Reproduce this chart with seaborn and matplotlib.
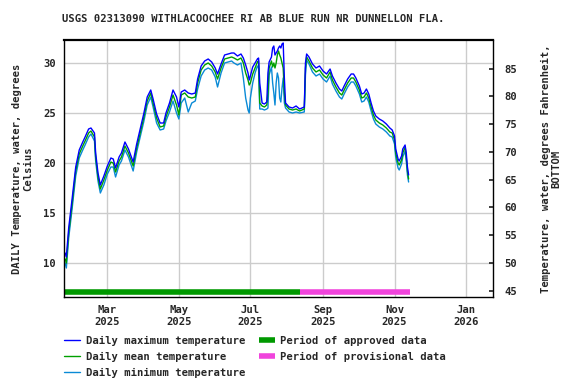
import pandas as pd
import numpy as np
import seaborn as sns
import matplotlib.pyplot as plt
import matplotlib.dates as mdates
from matplotlib.lines import Line2D

# Daily water temperature values (deg C)
dates = [
    '2025-01-24', '2025-01-25', '2025-01-27', '2025-01-30', '2025-02-02', '2025-02-05',
    '2025-02-08', '2025-02-10', '2025-02-13', '2025-02-15', '2025-02-18', '2025-02-19',
    '2025-02-21', '2025-02-23', '2025-02-26', '2025-03-01', '2025-03-04', '2025-03-06',
    '2025-03-08', '2025-03-11', '2025-03-13', '2025-03-16', '2025-03-19', '2025-03-23',
    '2025-03-26', '2025-03-29', '2025-04-01', '2025-04-04', '2025-04-07', '2025-04-09',
    '2025-04-12', '2025-04-15', '2025-04-18', '2025-04-20', '2025-04-23', '2025-04-26',
    '2025-04-29', '2025-05-01', '2025-05-03', '2025-05-06', '2025-05-09', '2025-05-12',
    '2025-05-15', '2025-05-17', '2025-05-20', '2025-05-23', '2025-05-26', '2025-05-29',
    '2025-06-01', '2025-06-03', '2025-06-06', '2025-06-09', '2025-06-12', '2025-06-15',
    '2025-06-17', '2025-06-20', '2025-06-23', '2025-06-25', '2025-06-27', '2025-06-29',
    '2025-06-30', '2025-07-01', '2025-07-03', '2025-07-05', '2025-07-07', '2025-07-08',
    '2025-07-09', '2025-07-11', '2025-07-13', '2025-07-15', '2025-07-16', '2025-07-17',
    '2025-07-19', '2025-07-20', '2025-07-21', '2025-07-22', '2025-07-23', '2025-07-24',
    '2025-07-25', '2025-07-26', '2025-07-27', '2025-07-28', '2025-07-29', '2025-07-30',
    '2025-07-31', '2025-08-03', '2025-08-06', '2025-08-09', '2025-08-12', '2025-08-16',
    '2025-08-17', '2025-08-18', '2025-08-20', '2025-08-23', '2025-08-26', '2025-08-29',
    '2025-09-01', '2025-09-04', '2025-09-07', '2025-09-09', '2025-09-12', '2025-09-15',
    '2025-09-17', '2025-09-19', '2025-09-22', '2025-09-25', '2025-09-27', '2025-09-29',
    '2025-10-02', '2025-10-04', '2025-10-06', '2025-10-08', '2025-10-10', '2025-10-12',
    '2025-10-14', '2025-10-16', '2025-10-19', '2025-10-22', '2025-10-25', '2025-10-28',
    '2025-10-30', '2025-11-01', '2025-11-02', '2025-11-04', '2025-11-05', '2025-11-07',
    '2025-11-08', '2025-11-10', '2025-11-11', '2025-11-12', '2025-11-13',
]

t_mean = [
    10.4, 10.0, 13.0, 16.0, 19.2, 20.9,
    21.7, 22.2, 23.0, 23.2, 22.6, 20.6,
    18.6, 17.4, 18.3, 19.3, 20.1, 20.0,
    19.1, 20.2, 20.6, 21.7, 21.0, 19.7,
    21.5, 23.0, 24.5, 26.2, 27.0, 26.0,
    24.5, 23.6, 23.7, 24.6, 25.6, 26.8,
    25.8, 24.8, 26.8, 27.0, 26.6, 26.5,
    26.6, 28.0, 29.3, 29.8, 30.0, 29.7,
    29.1, 28.4, 29.5, 30.4, 30.5, 30.6,
    30.5, 30.3, 30.5, 30.0, 29.0, 28.3,
    27.8, 28.0, 28.9, 29.5, 30.1, 30.2,
    26.0, 25.7, 25.6, 25.8, 27.0, 29.5,
    30.2, 29.6, 30.0, 29.5, 30.0, 30.8,
    31.2, 30.8, 30.5, 30.0, 29.5, 27.0,
    25.8, 25.4, 25.3, 25.4, 25.2, 25.4,
    29.5, 30.6, 30.2, 29.5, 29.1, 29.3,
    28.8, 28.5, 29.1, 28.3, 27.6, 27.0,
    26.8, 27.3, 28.0, 28.5, 28.5, 28.1,
    27.3, 26.5, 26.6, 27.0, 26.5, 25.6,
    24.8, 24.3, 24.0, 23.8, 23.5, 23.1,
    23.0, 22.3, 21.0, 20.0, 19.8, 20.3,
    21.0, 21.6, 20.6, 19.2, 18.4,
]

t_max = [
    11.0, 10.6, 13.5, 16.5, 19.6, 21.3,
    22.1, 22.6, 23.4, 23.5, 23.0, 21.0,
    19.0, 17.8, 18.7, 19.7, 20.5, 20.4,
    19.5, 20.6, 21.0, 22.1, 21.4, 20.1,
    21.9, 23.4, 24.9, 26.6, 27.3, 26.4,
    24.9, 24.0, 24.0, 25.0, 26.0, 27.3,
    26.6, 25.6, 27.1, 27.3, 27.0, 26.9,
    27.0, 28.4, 29.7, 30.2, 30.4, 30.1,
    29.5, 28.9, 29.9, 30.8, 30.9, 31.0,
    31.0, 30.7, 30.9, 30.5, 29.8, 29.0,
    28.3, 28.7, 29.6, 30.0, 30.4, 30.5,
    28.0, 26.0, 25.9, 26.1, 29.0, 30.1,
    30.6, 31.5, 31.7, 30.8, 31.0, 31.2,
    31.5, 31.7, 31.5, 31.9, 32.0, 28.5,
    26.0, 25.6, 25.5, 25.7, 25.4, 25.6,
    30.0, 30.9, 30.6, 29.9, 29.5, 29.7,
    29.2, 28.9, 29.4, 28.7, 28.0, 27.4,
    27.2, 27.7, 28.4, 28.9, 28.9, 28.5,
    27.7, 26.9, 27.0, 27.4, 26.9, 26.0,
    25.2, 24.7, 24.4, 24.2, 23.9, 23.5,
    23.3, 22.7, 21.4, 20.4, 20.2, 20.7,
    21.4, 21.8, 21.0, 19.6, 18.8,
]

t_min = [
    10.0, 9.5, 12.5, 15.5, 18.7, 20.5,
    21.3, 21.8, 22.6, 22.9, 22.2, 20.2,
    18.2, 17.0, 17.8, 18.9, 19.6, 19.6,
    18.6, 19.8, 20.2, 21.3, 20.6, 19.2,
    21.1, 22.6, 24.1, 25.8, 26.6, 25.6,
    24.0, 23.3, 23.4, 24.2, 25.1, 26.2,
    25.0, 24.4, 26.0, 26.5, 25.1, 26.0,
    26.2, 27.4, 28.7, 29.3, 29.5, 29.3,
    28.6, 27.6, 29.0, 30.0, 30.1, 30.2,
    30.0, 29.8, 30.0, 28.5, 26.5, 25.3,
    25.0, 26.5, 28.0, 29.0, 29.7, 29.5,
    25.4, 25.4, 25.3, 25.4, 25.5, 28.8,
    29.6, 28.0, 27.0, 25.8, 28.0, 29.0,
    28.5, 26.5, 26.1, 27.5, 28.5, 26.0,
    25.5, 25.1, 25.0, 25.1, 25.0, 25.1,
    28.8, 30.3, 29.9, 29.1, 28.7, 28.9,
    28.4, 28.1, 28.7, 27.9, 27.2, 26.6,
    26.4, 26.9, 27.6, 28.1, 28.1, 27.7,
    26.9, 26.1, 26.2, 26.6, 26.1, 25.2,
    24.4, 23.9, 23.6, 23.4, 23.1, 22.7,
    22.6, 21.9, 20.6, 19.5, 19.3, 19.9,
    20.6, 21.2, 20.2, 18.8, 18.1,
]

approved_span = ['2025-01-23', '2025-08-12']
provisional_span = ['2025-08-12', '2025-11-14']

series_names = ['Daily maximum temperature', 'Daily mean temperature', 'Daily minimum temperature']
series_colors = ['#0000ff', '#00a000', '#0a8ad6']
approved_color = '#009900'
provisional_color = '#f044dc'

FONT = ['DejaVu Sans Mono']
FS = 7.6


def c_to_f(c):
    return c * 9.0 / 5.0 + 32.0


df = pd.DataFrame({
    'date': pd.to_datetime(dates),
    series_names[0]: t_max,
    series_names[1]: t_mean,
    series_names[2]: t_min,
})
long_df = df.melt(id_vars='date', var_name='series', value_name='temp')

sns.set_theme(style='white')
plt.rcParams['font.family'] = FONT
plt.rcParams['font.weight'] = 'bold'

fig = plt.figure(figsize=(5.76, 3.84), dpi=100)
ax = fig.add_axes([64 / 576, 1 - 297 / 384, (493 - 64) / 576, (297 - 40) / 384])

# draw min first so max sits on top
draw_order = [series_names[2], series_names[1], series_names[0]]
sns.lineplot(data=long_df, x='date', y='temp', hue='series', hue_order=draw_order,
             palette=dict(zip(series_names, series_colors)), linewidth=1.0,
             legend=False, ax=ax)

ylo, yhi = 6.6, 32.3
bar_y = 7.1
ax.plot(pd.to_datetime(approved_span), [bar_y, bar_y], color=approved_color, lw=4,
        solid_capstyle='butt', clip_on=False)
ax.plot(pd.to_datetime(provisional_span), [bar_y, bar_y], color=provisional_color, lw=4,
        solid_capstyle='butt', clip_on=False)

ax.set_xlim(pd.Timestamp('2025-01-23'), pd.Timestamp('2026-01-24'))
ax.set_ylim(ylo, yhi)
ax.set_yticks([10, 15, 20, 25, 30])
ax.xaxis.set_major_locator(mdates.MonthLocator(bymonth=[1, 3, 5, 7, 9, 11]))
ax.xaxis.set_major_formatter(mdates.DateFormatter('%b\n%Y'))
ax.grid(True, color='#cccccc', linewidth=1.0)
ax.set_axisbelow(True)
ax.set_xlabel('')
ax.set_ylabel('DAILY Temperature, water, degrees\nCelsius', fontsize=FS, fontweight='bold',
              linespacing=1.1, labelpad=7)
ax.tick_params(axis='both', labelsize=FS, length=0, pad=6)
for lab in ax.get_xticklabels() + ax.get_yticklabels():
    lab.set_fontweight('bold')
for sp in ax.spines.values():
    sp.set_color('black')
    sp.set_linewidth(1.0)
ax.spines['top'].set_linewidth(1.6)

ax2 = ax.twinx()
ax2.set_ylim(c_to_f(ylo), c_to_f(yhi))
ax2.set_yticks([45, 50, 55, 60, 65, 70, 75, 80, 85])
ax2.tick_params(axis='y', labelsize=FS, direction='in', length=3, pad=8)
for lab in ax2.get_yticklabels():
    lab.set_fontweight('bold')
ax2.set_ylabel('Temperature, water, degrees Fahrenheit,\nBOTTOM', fontsize=FS,
               fontweight='bold', linespacing=1.1, labelpad=17)
ax2.grid(False)
for sp in ax2.spines.values():
    sp.set_visible(False)

fig.text(62 / 576, 1 - 19 / 384, 'USGS 02313090 WITHLACOOCHEE RI AB BLUE RUN NR DUNNELLON FLA.',
         ha='left', va='center', fontsize=FS, fontweight='bold')

handles = [Line2D([], [], color=c, lw=1.0) for c in series_colors]
handles += [Line2D([], [], color=approved_color, lw=4, solid_capstyle='butt'),
            Line2D([], [], color=provisional_color, lw=4, solid_capstyle='butt')]
labels = series_names + ['Period of approved data', 'Period of provisional data']
fig.legend(handles, labels, ncol=2, loc='upper left', bbox_to_anchor=(64 / 576, 1 - 336 / 384),
           frameon=False, fontsize=FS, handlelength=1.5, handletextpad=0.55,
           labelspacing=0.55, columnspacing=1.3, borderaxespad=0, borderpad=0,
           prop={'weight': 'bold', 'size': FS, 'family': FONT})

fig.savefig('out.png', dpi=100)
